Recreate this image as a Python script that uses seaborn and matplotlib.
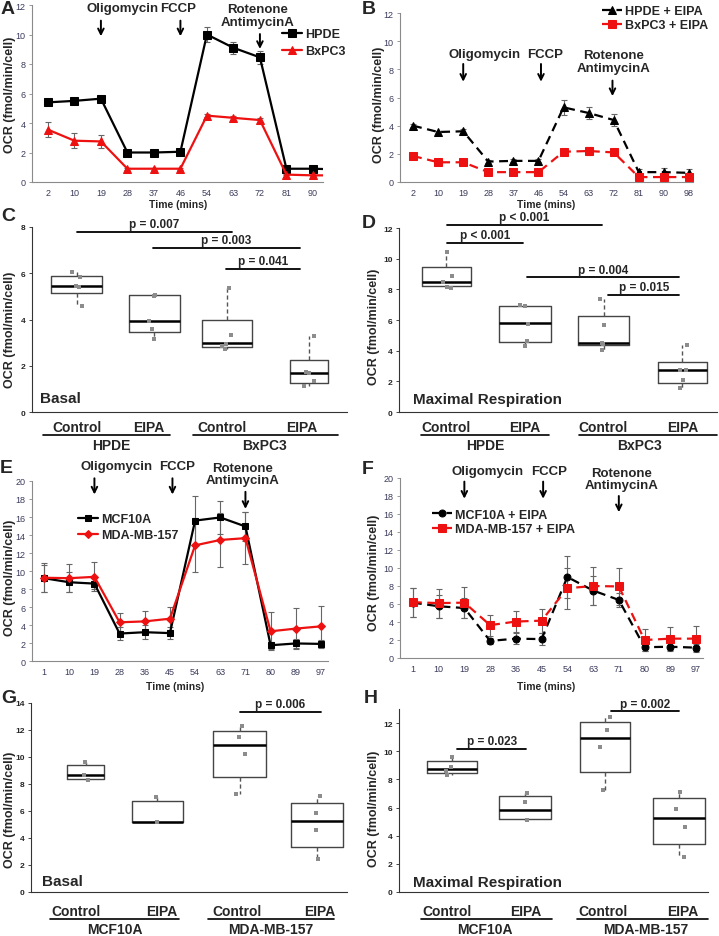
import matplotlib.pyplot as plt
import matplotlib.transforms as mtransforms
import numpy as np
import pandas as pd
import seaborn as sns

# ---- Seahorse time-course data (A, B, E, F) ----
ab_times = [2, 10, 19, 28, 37, 46, 54, 63, 72, 81, 90, 98]
a_hpde = [5.40, 5.50, 5.65, 2.00, 2.00, 2.05, 10.00, 9.10, 8.45, 0.90, 0.90, 0.85]
a_hpde_err = [0.20, 0.12, 0.20, 0.08, 0.08, 0.08, 0.50, 0.40, 0.45, 0.08, 0.08, 0.08]
a_bxpc3 = [3.55, 2.80, 2.75, 0.90, 0.90, 0.90, 4.50, 4.35, 4.20, 0.50, 0.45, 0.45]
a_bxpc3_err = [0.50, 0.50, 0.45, 0.06, 0.06, 0.06, 0.12, 0.12, 0.12, 0.05, 0.05, 0.05]

b_hpde = [4.00, 3.55, 3.60, 1.45, 1.50, 1.50, 5.30, 4.90, 4.40, 0.70, 0.70, 0.65]
b_hpde_err = [0.10, 0.10, 0.15, 0.10, 0.10, 0.10, 0.55, 0.45, 0.45, 0.20, 0.30, 0.30]
b_bxpc3 = [1.85, 1.40, 1.40, 0.70, 0.70, 0.70, 2.15, 2.20, 2.10, 0.35, 0.35, 0.35]
b_bxpc3_err = [0.10, 0.10, 0.10, 0.05, 0.05, 0.05, 0.20, 0.25, 0.15, 0.05, 0.05, 0.05]

ef_times = [1, 10, 19, 28, 36, 45, 54, 63, 71, 80, 89, 97]
e_mcf = [9.20, 8.75, 8.60, 3.05, 3.20, 3.10, 15.60, 15.95, 14.95, 1.75, 1.95, 1.90]
e_mcf_err = [1.50, 1.10, 0.60, 0.70, 0.75, 0.70, 2.70, 1.80, 1.60, 0.40, 0.50, 0.45]
e_mda = [9.25, 9.20, 9.35, 4.30, 4.40, 4.70, 12.85, 13.45, 13.65, 3.30, 3.60, 3.85]
e_mda_err = [1.60, 1.55, 1.60, 1.00, 1.20, 1.30, 3.00, 3.05, 2.90, 2.10, 2.30, 2.30]

f_mcf = [6.15, 5.75, 5.55, 1.90, 2.15, 2.10, 9.00, 7.50, 6.45, 1.20, 1.25, 1.15]
f_mcf_err = [1.60, 1.30, 1.15, 0.30, 0.60, 0.70, 2.30, 1.60, 0.80, 0.45, 0.50, 0.45]
f_mda = [6.20, 6.10, 6.15, 3.65, 4.05, 4.15, 7.75, 8.00, 7.95, 2.00, 2.15, 2.15]
f_mda_err = [1.60, 1.60, 1.70, 1.15, 1.20, 1.35, 2.30, 2.15, 2.10, 1.20, 1.25, 1.40]

# ---- box plot data (C, D, G, H): box stats and replicate points ----
box_labels = ['Control', 'EIPA', 'Control', 'EIPA']

c_q1 = [5.15, 3.44, 2.79, 1.24]
c_med = [5.47, 3.94, 2.98, 1.69]
c_q3 = [5.90, 5.04, 4.00, 2.23]
c_lo = [4.60, 3.15, 2.72, 1.13]
c_hi = [6.05, 5.04, 5.35, 3.30]
c_points = [[6.05, 5.85, 5.45, 5.40, 4.60], [5.04, 5.00, 3.94, 3.59, 3.15],
            [5.35, 3.33, 2.94, 2.87, 2.72], [3.30, 1.71, 1.68, 1.35, 1.13]]

d_q1 = [8.20, 4.54, 4.36, 1.92]
d_med = [8.49, 5.78, 4.50, 2.75]
d_q3 = [9.45, 6.94, 6.24, 3.27]
d_lo = [8.07, 4.28, 4.04, 1.55]
d_hi = [10.43, 6.98, 7.38, 4.36]
d_points = [[10.43, 8.90, 8.47, 8.14, 8.07], [6.98, 6.90, 5.74, 4.65, 4.28],
            [7.38, 5.67, 4.50, 4.43, 4.04], [4.36, 2.75, 2.73, 2.07, 1.55]]

g_q1 = [8.38, 5.19, 8.50, 3.33]
g_med = [8.63, 5.19, 10.90, 5.23]
g_q3 = [9.42, 6.74, 11.95, 6.60]
g_lo = [8.31, 5.19, 7.27, 2.42]
g_hi = [9.61, 7.04, 12.28, 7.10]
g_points = [[9.61, 8.63, 8.31], [7.04, 5.19], [12.28, 11.46, 10.23, 7.27], [7.10, 5.87, 4.56, 2.42]]

h_q1 = [8.44, 5.20, 8.56, 3.43]
h_med = [8.75, 5.79, 10.92, 5.25]
h_q3 = [9.34, 6.81, 12.06, 6.67]
h_lo = [8.32, 5.15, 7.26, 2.48]
h_hi = [9.57, 7.04, 12.41, 7.09]
h_points = [[9.57, 8.87, 8.63, 8.32], [7.04, 6.38, 5.15], [12.41, 11.54, 10.31, 7.26], [7.09, 5.91, 4.61, 2.48]]

# p-value brackets: (x start, x end, height, text)
c_pvals = [(1.0, 3.0, 7.79, 'p = 0.007'), (1.98, 3.88, 7.10, 'p = 0.003'), (2.93, 3.88, 6.19, 'p = 0.041')]
d_pvals = [(1.01, 2.98, 12.22, 'p < 0.001'), (1.01, 1.98, 11.04, 'p < 0.001'),
           (2.02, 3.96, 8.79, 'p = 0.004'), (3.06, 3.96, 7.66, 'p = 0.015')]
g_pvals = [(3.0, 4.05, 13.36, 'p = 0.006')]
h_pvals = [(1.07, 1.98, 10.17, 'p = 0.023'), (3.10, 4.0, 12.84, 'p = 0.002')]

W, H = 719, 937
RED = '#ee1111'


def px_rect(left, top, right, bottom):
    return [left / W, 1 - bottom / H, (right - left) / W, (bottom - top) / H]


def draw_course(ax, times, series, xlim, ylim, ystep, arrows, leg_anchor, leg_spacing, ylab_x, ylab_y):
    pos = np.arange(len(times))
    for vals, errs, color, marker, ms, ls, label in series:
        ax.errorbar(pos, vals, yerr=errs, fmt='none', ecolor='#666666', elinewidth=0.8,
                    capsize=2, capthick=0.8, zorder=1, label='_nolegend_')
        sns.lineplot(x=pos, y=vals, ax=ax, color=color, marker=marker, markersize=ms,
                     markeredgecolor=color, linewidth=1.6, linestyle=ls, label=label,
                     errorbar=None, zorder=3)
    ax.set_xticks(pos, [str(t) for t in times])
    ax.set_xlim(*xlim)
    ax.set_ylim(*ylim)
    ax.set_yticks(np.arange(0, ylim[1] + 0.1, ystep))
    ax.tick_params(axis='y', length=2.5, width=0.6, color='#888888', labelsize=6.5,
                   labelcolor='#3b3b5c', pad=2)
    ax.tick_params(axis='x', length=0, labelsize=6.5, labelcolor='#3b3b5c', pad=4)
    for sp in ['left', 'bottom']:
        ax.spines[sp].set_color('#8a8a8a')
        ax.spines[sp].set_linewidth(0.8)
    sns.despine(ax=ax)
    ax.set_xlabel('')
    ax.set_ylabel('OCR (fmol/min/cell)', fontsize=9, fontweight='bold')
    ax.yaxis.set_label_coords(ylab_x, ylab_y)
    ax.yaxis.label.set_verticalalignment('center')
    for label, tx, ty, axx, y0, y1 in arrows:
        ax.text(tx, ty, label, ha='center', va='center', fontsize=9.5, fontweight='bold',
                linespacing=1.05, clip_on=False)
        ax.annotate('', xy=(axx, y1), xytext=(axx, y0), annotation_clip=False,
                    arrowprops=dict(arrowstyle='->', color='black', lw=1.4, mutation_scale=10,
                                    shrinkA=0, shrinkB=0))
    ax.legend(loc='upper left', bbox_to_anchor=leg_anchor, frameon=False,
              prop={'size': 9, 'weight': 'bold'}, handlelength=1.6, handletextpad=0.25,
              labelspacing=leg_spacing, borderaxespad=0, borderpad=0)


def draw_boxes(ax, positions, widths, q1, med, q3, lo, hi, points, xlim, ylim, ystep,
               cat_x, groups, pvals, title, title_xy, cat_pad, under_y, ylab_x, ylab_y):
    stats = [dict(q1=a, med=b, q3=c, whislo=d, whishi=e) for a, b, c, d, e in zip(q1, med, q3, lo, hi)]
    ax.bxp(stats, positions=positions, widths=widths, showfliers=False, showcaps=False,
           boxprops=dict(color='#444444', linewidth=1.0),
           whiskerprops=dict(color='#555555', linewidth=1.0, linestyle=(0, (3, 2))),
           medianprops=dict(color='black', linewidth=1.8))
    df = pd.DataFrame({'pos': np.repeat(positions, [len(p) for p in points]),
                       'ocr': np.concatenate(points)})
    sns.stripplot(data=df, x='pos', y='ocr', native_scale=True, jitter=0.08, marker='s',
                  size=3, color='#8c8c8c', linewidth=0, ax=ax, zorder=4)
    ax.set_xlim(*xlim)
    ax.set_ylim(*ylim)
    ax.set_yticks(np.arange(0, ylim[1] + 0.1, ystep))
    ax.set_xticks(cat_x, box_labels, fontsize=10, fontweight='bold')
    ax.tick_params(axis='x', length=0, pad=cat_pad)
    ax.tick_params(axis='y', length=2.5, width=0.6, labelsize=6, pad=2)
    for t in ax.get_yticklabels():
        t.set_fontweight('bold')
    for sp in ['left', 'bottom']:
        ax.spines[sp].set_color('#333333')
        ax.spines[sp].set_linewidth(0.8)
    sns.despine(ax=ax)
    ax.set_xlabel('')
    ax.set_ylabel('OCR (fmol/min/cell)', fontsize=9, fontweight='bold')
    ax.yaxis.set_label_coords(ylab_x, ylab_y)
    ax.yaxis.label.set_verticalalignment('center')
    trans = mtransforms.blended_transform_factory(ax.transData, ax.transAxes)
    for name, x0, x1, gx in groups:
        ax.plot([x0, x1], [under_y, under_y], transform=trans, color='black', lw=1.2, clip_on=False)
        ax.text(gx, under_y - 0.055, name, transform=trans, ha='center', va='center',
                fontsize=10, fontweight='bold')
    for x0, x1, y, label in pvals:
        ax.plot([x0, x1], [y, y], color='black', lw=1.3, clip_on=False)
        ax.annotate(label, xy=((x0 + x1) / 2, y), xytext=(0, 1.2), textcoords='offset points',
                    ha='center', va='bottom', fontsize=8.5, fontweight='bold', annotation_clip=False)
    ax.text(title_xy[0], title_xy[1], title, transform=ax.transAxes, ha='left', va='center',
            fontsize=11, fontweight='bold')


sns.set_style('ticks')
plt.rcParams['font.family'] = ['Liberation Sans', 'DejaVu Sans']
np.random.seed(7)

fig = plt.figure(figsize=(W / 100, H / 100), dpi=100)

# A
ax = fig.add_axes(px_rect(32, 6, 323, 183))
draw_course(ax, ab_times,
            [(a_hpde, a_hpde_err, 'black', 's', 5.5, '-', 'HPDE'),
             (a_bxpc3, a_bxpc3_err, RED, '^', 6, '-', 'BxPC3')],
            (-0.6, 10.38), (0, 12), 2,
            [('Oligomycin', 2.8, 11.8, 2.0, 10.94, 9.88),
             ('FCCP', 4.9, 11.8, 5.0, 10.94, 9.88),
             ('Rotenone\nAntimycinA', 7.9, 11.29, 8.0, 10.03, 9.02)],
            (0.86, 0.87), 0.42, -0.076, 0.5)

# B
ax = fig.add_axes(px_rect(400, 14, 693, 183))
draw_course(ax, ab_times,
            [(b_hpde, b_hpde_err, 'black', '^', 5.5, (0, (4, 2.5)), 'HPDE + EIPA'),
             (b_bxpc3, b_bxpc3_err, RED, 's', 6, (0, (4, 2.5)), 'BxPC3 + EIPA')],
            (-0.52, 11.16), (0, 12), 2,
            [('Oligomycin', 2.87, 9.1, 2.0, 8.38, 7.12),
             ('FCCP', 5.25, 9.1, 5.1, 8.38, 7.12),
             ('Rotenone\nAntimycinA', 8.0, 8.56, 7.95, 7.2, 6.1)],
            (0.69, 1.045), 0.12, -0.072, 0.46)

# C
ax = fig.add_axes(px_rect(32, 228, 347, 413))
draw_boxes(ax, [1.0, 2.0, 2.94, 4.0], [0.66, 0.66, 0.65, 0.49],
           c_q1, c_med, c_q3, c_lo, c_hi, c_points, (0.42, 4.49), (0, 8), 2,
           [1.0, 1.93, 2.88, 3.9],
           [('HPDE', 0.56, 2.2, 1.45), ('BxPC3', 2.5, 4.38, 3.43)],
           c_pvals, 'Basal', (0.025, 0.076), 5.5, -0.124, -0.07, 0.45)

# D
ax = fig.add_axes(px_rect(399, 229, 717, 413))
draw_boxes(ax, [1.0, 2.0, 3.0, 4.0], [0.62, 0.65, 0.64, 0.62],
           d_q1, d_med, d_q3, d_lo, d_hi, d_points, (0.40, 4.44), (0, 12), 2,
           [1.0, 2.0, 2.99, 4.0],
           [('HPDE', 0.68, 2.31, 1.5), ('BxPC3', 2.69, 4.44, 3.45)],
           d_pvals, 'Maximal Respiration', (0.044, 0.07), 5.5, -0.125, -0.078, 0.47)

# E
ax = fig.add_axes(px_rect(32, 482, 328, 662))
draw_course(ax, ef_times,
            [(e_mcf, e_mcf_err, 'black', 's', 5, '-', 'MCF10A'),
             (e_mda, e_mda_err, RED, 'D', 4, '-', 'MDA-MB-157')],
            (-0.48, 11.28), (0, 20), 2,
            [('Oligomycin', 2.88, 21.7, 2.0, 20.3, 18.5),
             ('FCCP', 5.3, 21.7, 5.1, 20.3, 18.5),
             ('Rotenone\nAntimycinA', 7.87, 20.8, 8.0, 18.8, 16.9)],
            (0.155, 0.82), 0.28, -0.074, 0.47)

# F
ax = fig.add_axes(px_rect(400, 479, 703, 659))
draw_course(ax, ef_times,
            [(f_mcf, f_mcf_err, 'black', 'o', 5, (0, (4, 2.5)), 'MCF10A + EIPA'),
             (f_mda, f_mda_err, RED, 's', 5.5, (0, (4, 2.5)), 'MDA-MB-157 + EIPA')],
            (-0.5, 11.27), (0, 20), 2,
            [('Oligomycin', 2.9, 20.8, 2.0, 19.6, 17.7),
             ('FCCP', 5.3, 20.8, 5.06, 19.6, 17.7),
             ('Rotenone\nAntimycinA', 8.1, 19.9, 8.0, 18.0, 16.2)],
            (0.106, 0.83), 0.2, -0.085, 0.48)

# G
ax = fig.add_axes(px_rect(31, 704, 347, 893))
draw_boxes(ax, [1.0, 1.93, 3.0, 4.0], [0.48, 0.66, 0.69, 0.67],
           g_q1, g_med, g_q3, g_lo, g_hi, g_points, (0.29, 4.39), (0, 14), 2,
           [0.88, 1.99, 2.96, 4.03],
           [('MCF10A', 0.54, 2.21, 1.38), ('MDA-MB-157', 2.59, 4.22, 3.4)],
           g_pvals, 'Basal', (0.035, 0.058), 8.5, -0.143, -0.066, 0.44)

# H
ax = fig.add_axes(px_rect(399, 710, 708, 893))
draw_boxes(ax, [1.0, 1.96, 3.02, 4.0], [0.67, 0.69, 0.66, 0.69],
           h_q1, h_med, h_q3, h_lo, h_hi, h_points, (0.30, 4.38), (0, 13), 2,
           [0.93, 1.98, 3.0, 4.05],
           [('MCF10A', 0.59, 2.32, 1.44), ('MDA-MB-157', 2.65, 4.38, 3.56)],
           h_pvals, 'Maximal Respiration', (0.045, 0.055), 8.5, -0.148, -0.082, 0.46)
ax.set_yticks(np.arange(0, 13, 2))

# x-axis titles of the time courses
for cx, cy in [(178, 205), (546, 205), (175, 687), (546, 687)]:
    fig.text(cx / W, 1 - cy / H, 'Time (mins)', ha='center', va='center', fontsize=7.5, fontweight='bold')

# panel letters
for letter, lx, ly in [('A', 1, 1), ('B', 362, 1), ('C', 1, 208), ('D', 362, 215),
                       ('E', 0, 460), ('F', 362, 461), ('G', 1, 690), ('H', 364, 690)]:
    fig.text(lx / W, 1 - ly / H, letter, ha='left', va='top', fontsize=14, fontweight='bold')

fig.savefig('out.png', dpi=100)
